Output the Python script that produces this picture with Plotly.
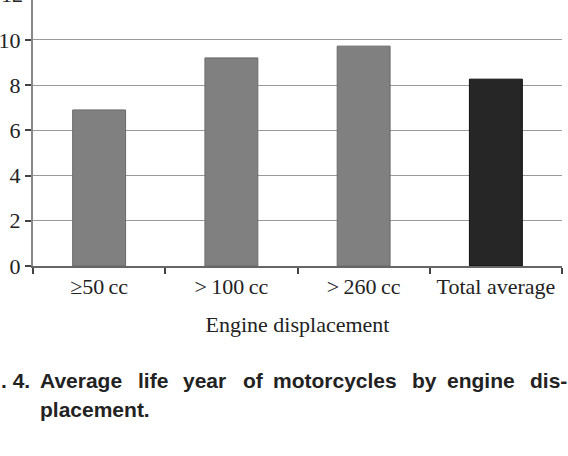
import plotly.graph_objects as go

categories = ["\u226550\u2009cc", ">\u2009100\u2009cc", ">\u2009260\u2009cc", "Total average"]
life_years = [6.9, 9.2, 9.72, 8.26]
bar_colors = ["#808080", "#808080", "#808080", "#262626"]
line_colors = ["#6a6a6a", "#6a6a6a", "#6a6a6a", "#111111"]
y_ticks = [0, 2, 4, 6, 8, 10]
caption_line1 = [". 4.", "Average", "life", "year", "of", "motorcycles", "by", "engine", "dis-"]
caption_line1_px = [0, 39, 137, 182, 242, 272, 411, 446, 529]
caption_line2 = "placement."

W, H = 568, 456
L, R, T, B = 33, 6, 0, 190
pw = W - L - R
ph = H - T - B
ymax = 11.76

fig = go.Figure(go.Bar(
    x=categories, y=life_years, width=0.4,
    marker=dict(color=bar_colors, line=dict(color=line_colors, width=1)),
))

def px2paper_x(px):
    return (px - L) / pw

def px2paper_y(py):
    return (H - B - py) / ph

cap_font = dict(family="Liberation Sans", size=21, color="#222", weight="bold")
anns = []
# "12" label partly cut by the top edge
anns.append(dict(xref="paper", yref="paper", x=0, y=12 / ymax, xanchor="right", yanchor="middle",
                 xshift=-8, text="12", showarrow=False,
                 font=dict(family="Liberation Serif", size=22, color="#222")))
for w, px in zip(caption_line1, caption_line1_px):
    anns.append(dict(xref="paper", yref="paper", x=px2paper_x(px), y=px2paper_y(380),
                     xanchor="left", yanchor="middle", text=w, showarrow=False,
                     xshift=-1, font=cap_font))
anns.append(dict(xref="paper", yref="paper", x=px2paper_x(39), y=px2paper_y(409),
                 xanchor="left", yanchor="middle", text=caption_line2, showarrow=False,
                 xshift=-1, font=cap_font))
# 12 tick mark
fig.add_shape(type="line", xref="paper", yref="paper", x0=0, x1=-6 / pw,
              y0=12 / ymax, y1=12 / ymax, line=dict(color="#555", width=1.5))

fig.update_layout(
    width=W, height=H, margin=dict(l=L, r=R, t=T, b=B),
    paper_bgcolor="white", plot_bgcolor="white", showlegend=False,
    annotations=anns,
    font=dict(family="Liberation Serif", size=22, color="#222"),
    xaxis=dict(showline=True, linecolor="#666", linewidth=1.5, ticks="outside",
               tickson="boundaries", ticklen=6, tickcolor="#444", tickwidth=1.5,
               showgrid=False,
               tickfont=dict(family="Liberation Serif", size=22, color="#222"),
               title=dict(text="Engine displacement", standoff=18,
                          font=dict(family="Liberation Serif", size=22, color="#222"))),
    yaxis=dict(range=[0, ymax], tickvals=y_ticks, showline=True, linecolor="#888",
               linewidth=2, ticks="outside", ticklen=6, tickcolor="#444", tickwidth=1.5,
               showgrid=True, gridcolor="#999", gridwidth=1.2, zeroline=False,
               tickfont=dict(family="Liberation Serif", size=22, color="#222")),
)

fig.write_html("out.html")
